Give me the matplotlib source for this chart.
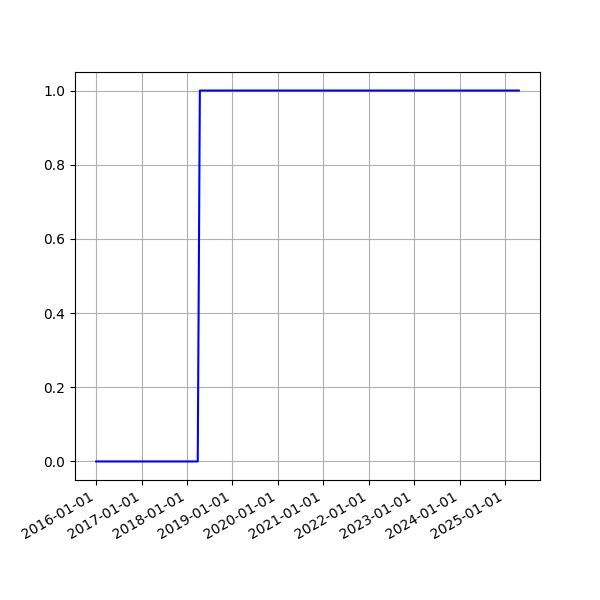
import matplotlib
matplotlib.use("Agg")
import matplotlib.pyplot as plt
import matplotlib.dates as mdates
import numpy as np

# step series
dates = np.array(["2016-01-01", "2018-03-28", "2018-04-14", "2025-04-22"], dtype="datetime64[D]")
values = [0, 0, 1, 1]

fig, ax = plt.subplots(figsize=(6, 6), dpi=100)
ax.plot(dates, values, color="blue")
ax.xaxis.set_major_locator(mdates.YearLocator())
ax.xaxis.set_major_formatter(mdates.DateFormatter("%Y-%m-%d"))
ax.grid(True)
fig.autofmt_xdate()
fig.savefig("out.png")
